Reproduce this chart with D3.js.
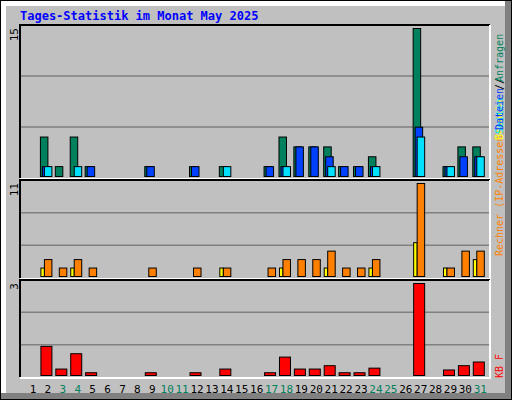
<!DOCTYPE html>
<html><head><meta charset="utf-8">
<script src="https://cdn.jsdelivr.net/npm/d3@7"></script>
<style>body{margin:0;background:#fff}</style>
</head><body>
<svg id="chart" width="512" height="400"></svg>
<script>
var days = d3.range(1, 32);
var weekend = [3, 4, 10, 11, 17, 18, 24, 25, 31];
var hits  = [0,4,1,4,1,0,0,0,1,0,0,1,0,1,0,0,1,4,3,3,3,1,1,2,0,0,15,0,1,3,3];
var files = [0,1,0,0,1,0,0,0,1,0,0,1,0,0,0,0,1,1,3,3,2,1,1,1,0,0,5,0,1,2,2];
var pages = [0,1,0,1,0,0,0,0,0,0,0,0,0,1,0,0,0,1,0,0,1,0,0,1,0,0,4,0,1,0,2];
var visits = [0,1,0,1,0,0,0,0,0,0,0,0,0,1,0,0,0,1,0,0,1,0,0,1,0,0,4,0,1,0,2];
var sites  = [0,2,1,2,1,0,0,0,1,0,0,1,0,1,0,0,1,2,2,2,3,1,1,2,0,0,11,0,1,3,3];
var kbytes = [0,0.95,0.21,0.71,0.09,0,0,0,0.09,0,0,0.09,0,0.21,0,0,0.09,0.6,0.21,0.21,0.32,0.09,0.09,0.24,0,0,3,0,0.18,0.32,0.44];

var svg = d3.select('#chart');
var font = "'DejaVu Sans Mono', monospace";

// frame
svg.append('rect').attr('x', 0).attr('y', 0).attr('width', 512).attr('height', 400).attr('fill', '#000');
svg.append('rect').attr('x', 1).attr('y', 1).attr('width', 510).attr('height', 398).attr('fill', '#808080');
svg.append('rect').attr('x', 1).attr('y', 1).attr('width', 504).attr('height', 392).attr('fill', '#fff');
svg.append('rect').attr('x', 6).attr('y', 6).attr('width', 499).attr('height', 387).attr('fill', '#c0c0c0');

svg.append('text').attr('x', 20).attr('y', 20)
    .style('font-family', font).style('font-weight', 'bold').style('font-size', '12px')
    .attr('fill', '#0000ff').text('Tages-Statistik im Monat May 2025');

var x = d3.scaleLinear().domain([1, 31]).range([33, 480.3]);
var left = 20, right = 490;

var panels = [
  {top: 25, bottom: 178, max: 15, series: [[hits, '#00805c', -7.5], [files, '#0040ff', -5.5], [pages, '#00e0ff', -3.5]]},
  {top: 180, bottom: 278, max: 11, series: [[visits, '#ffff00', -7], [sites, '#ff8000', -3.5]]},
  {top: 280, bottom: 377, max: 3, series: [[kbytes, '#ff0000', -7]]}
];
var widths = {'#00805c': 7.5, '#0040ff': 7.5, '#00e0ff': 7.5, '#ffff00': 3.5, '#ff8000': 7.5, '#ff0000': 11};

panels.forEach(function(p) {
  var y = d3.scaleLinear().domain([0, p.max]).range([p.bottom - 1.5, p.top + 3.5]);
  var h = p.bottom - p.top;
  [1, 2].forEach(function(i) {
    svg.append('line').attr('x1', left).attr('x2', right)
      .attr('y1', p.bottom - h * i / 3).attr('y2', p.bottom - h * i / 3)
      .attr('stroke', '#808080').attr('stroke-width', 1.5);
  });
  svg.append('path').attr('d', 'M' + left + ',' + p.bottom + 'V' + p.top + 'H' + right)
    .attr('stroke', '#000').attr('stroke-width', 2).attr('fill', 'none');
  svg.append('path').attr('d', 'M' + right + ',' + p.top + 'V' + (p.bottom + 1) + 'H' + left)
    .attr('stroke', '#fff').attr('stroke-width', 2).attr('fill', 'none');
  svg.append('text').attr('transform', 'translate(18,' + (p.top + 3) + ')rotate(-90)')
    .attr('text-anchor', 'end').style('font-family', font).style('font-size', '11px')
    .text(p.max);
  p.series.forEach(function(s) {
    svg.append('g').selectAll('rect').data(days.filter(function(d) { return s[0][d - 1] > 0; }))
      .enter().append('rect')
      .attr('x', function(d) { return x(d) + s[2]; })
      .attr('width', widths[s[1]])
      .attr('y', function(d) { return y(s[0][d - 1]); })
      .attr('height', function(d) { return y(0) - y(s[0][d - 1]); })
      .attr('fill', s[1]).attr('stroke', '#000').attr('stroke-width', 1);
  });
});

// day labels
svg.append('g').selectAll('text').data(days).enter().append('text')
  .attr('x', function(d) { return x(d); }).attr('y', 393)
  .attr('text-anchor', 'middle').style('font-family', font).style('font-size', '11px')
  .attr('fill', function(d) { return weekend.indexOf(d) >= 0 ? '#00805c' : '#000'; })
  .text(function(d) { return d; });

// right-side legends (overlapping like the original)
var legends = [
  ['Rechner (IP-Adressen)', '#ff8000', 256],
  ['Besuche', '#ffff00', 140],
  ['Seiten', '#00e0ff', 134],
  ['/', '#000', 90],
  ['Dateien', '#0040ff', 130],
  ['/', '#000', 84],
  ['Anfragen', '#00805c', 82],
  ['KB F', '#ff0000', 378]
];
legends.forEach(function(l) {
  svg.append('text').attr('transform', 'translate(503,' + l[2] + ')rotate(-90)')
    .style('font-family', font).style('font-size', '10px').attr('fill', l[1]).text(l[0]);
});
</script>
</body></html>
